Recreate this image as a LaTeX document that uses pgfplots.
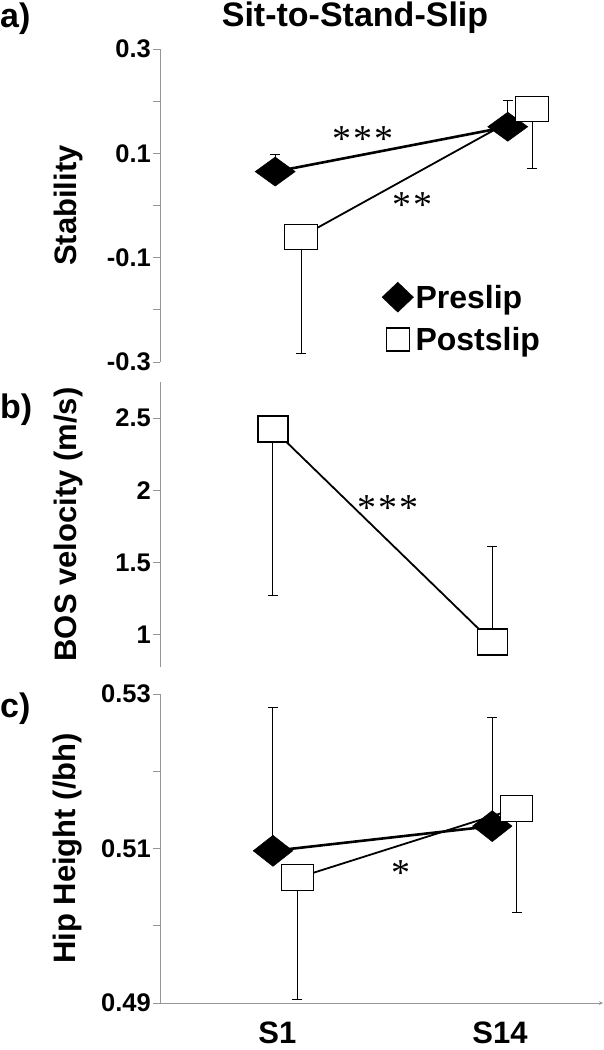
\documentclass[border=0pt]{standalone}
\usepackage{pgfplots}
\pgfplotsset{compat=1.18}
\usepackage{fontspec}
\setmainfont{Liberation Sans}
\newfontfamily\starfont{Liberation Serif}
\definecolor{axgray}{RGB}{150,150,150}
\tikzset{star/.style={font=\starfont\fontsize{38}{38}\selectfont, inner sep=0pt, anchor=base, yshift=-20pt}}
\begin{document}
\begin{tikzpicture}[x=1pt,y=1pt]
\path[use as bounding box] (0,0) rectangle (604,-1050);
\pgfplotsset{
  every axis/.append style={
    scale only axis, width=443pt, anchor=south west,
    xmin=0.5, xmax=2.5, clip=false,
    axis y line=left,
    axis line style={draw=axgray, line width=0.8pt, -},
    tick style={draw=axgray, line width=0.8pt},
    tick align=outside, major tick length=7pt, minor tick length=7pt,
    yticklabel style={font=\bfseries\fontsize{25.5}{25.5}\selectfont, inner sep=2pt},
    ylabel style={at={(axis description cs:-0.2077,0.5)}, anchor=center, font=\bfseries\fontsize{31}{31}\selectfont},
  },
  errplus/.style={black, only marks, mark=*, mark size=0pt, forget plot, error bars/y dir=plus, error bars/y explicit,
     error bars/error mark=|,
     error bars/error bar style={line width=1pt, solid}, error bars/error mark options={black, line width=1pt, mark size=5pt}},
  errminus/.style={black, only marks, mark=*, mark size=0pt, forget plot, error bars/y dir=minus, error bars/y explicit,
     error bars/error mark=|,
     error bars/error bar style={line width=1pt, solid}, error bars/error mark options={black, line width=1pt, mark size=5pt}},
  pre/.style={forget plot, black, line width=2.6pt, mark=diamond*, mark size=14.5pt, mark options={solid, fill=black, xscale=1.84, line width=0.5pt}},
  post/.style={forget plot, black, line width=1.8pt, mark=square*, mark size=12.5pt, mark options={solid, fill=white, xscale=1.3, line width=1.2pt}},
}
% Title and panel letters
\node[font=\bfseries\fontsize{34}{34}\selectfont, anchor=base] at (355,-26) {Sit-to-Stand-Slip};
\node[font=\bfseries\fontsize{34}{34}\selectfont, anchor=base west, inner sep=0pt] at (0,-27) {a)};
\node[font=\bfseries\fontsize{34}{34}\selectfont, anchor=base west, inner sep=0pt] at (0,-418) {b)};
\node[font=\bfseries\fontsize{34}{34}\selectfont, anchor=base west, inner sep=0pt] at (0,-717) {c)};

% Panel a
\begin{axis}[at={(160pt,-362pt)}, height=313pt, ymin=-0.3, ymax=0.3,
  axis x line=none,
  ytick={-0.3,-0.1,0.1,0.3}, yticklabels={-0.3,-0.1,0.1,0.3},
  minor ytick={-0.2,0,0.2}, ylabel={Stability},
  legend cell align=left,
  legend style={at={(rel axis cs:0.494,0.262)}, anchor=north west, draw=none, fill=none,
     font=\bfseries\fontsize{32}{32}\selectfont, row sep=13pt,
     /tikz/every even column/.append style={column sep=7pt}}]
\addplot[errplus] coordinates {(1.02,0.065) +- (0,0.0325) (2.07,0.151) +- (0,0.050)};
\addplot[errminus] coordinates {(1.137,-0.060) +- (0,0.224) (2.18,0.185) +- (0,0.114)};
\addplot[pre] coordinates {(1.02,0.065) (2.07,0.151)};
\addplot[post] coordinates {(1.137,-0.060) (2.18,0.185)};
\addlegendimage{only marks, mark=diamond*, mark size=15pt, mark options={fill=black, xscale=1.4}}
\addlegendentry{Preslip}
\addlegendimage{only marks, mark=square*, mark size=11.5pt, mark options={fill=white, line width=1.2pt}}
\addlegendentry{Postslip}
\node[star] at (axis cs:1.417,0.141) {*\hspace{2pt}*\hspace{2pt}*};
\node[star] at (axis cs:1.642,0.016) {*\hspace{2pt}*};
\end{axis}

% Panel b
\begin{axis}[at={(160pt,-667pt)}, height=285pt, ymin=0.775, ymax=2.75,
  axis x line=none,
  ytick={1,1.5,2,2.5}, yticklabels={1,1.5,2,2.5}, ylabel={BOS velocity (m/s)}]
\addplot[errminus] coordinates {(1.01,2.425) +- (0,1.155)};
\addplot[errplus] coordinates {(2.0,0.948) +- (0,0.662)};
\addplot[post, mark options={solid, fill=white, xscale=1.15, line width=1.2pt}, mark size=13pt] coordinates {(1.01,2.425) (2.0,0.948)};
\node[star] at (axis cs:1.529,1.93) {*\hspace{2pt}*\hspace{2pt}*};
\end{axis}

% Panel c
\begin{axis}[at={(160pt,-1003pt)}, height=309pt, ymin=0.49, ymax=0.53,
  axis x line=bottom,
  ytick={0.49,0.51,0.53}, yticklabels={0.49,0.51,0.53},
  minor ytick={0.50,0.52}, ylabel={Hip Height (/bh)},
  xtick={1.03,2.035}, xticklabels={S1,S14}, xtick style={draw=none},
  xticklabel style={font=\bfseries\fontsize{31}{31}\selectfont, anchor=base, yshift=-37pt},
  extra x ticks={0.5,1.5,2.5}, extra x tick labels={},
  extra x tick style={major tick length=5pt, tick style={draw=axgray, line width=0.8pt}}]
\addplot[errplus] coordinates {(1.01,0.5097) +- (0,0.0186) (2.0,0.5129) +- (0,0.0140)};
\addplot[errminus] coordinates {(1.12,0.5062) +- (0,0.0158) (2.11,0.5152) +- (0,0.0135)};
\addplot[pre, mark options={solid, fill=black, xscale=1.7, line width=0.5pt}, mark size=15.5pt] coordinates {(1.01,0.5097) (2.0,0.5129)};
\addplot[post, mark options={solid, fill=white, xscale=1.23, line width=1.2pt}, mark size=13pt] coordinates {(1.12,0.5062) (2.11,0.5152)};
\node[star] at (axis cs:1.586,0.5078) {*};
\end{axis}
\end{tikzpicture}
\end{document}
